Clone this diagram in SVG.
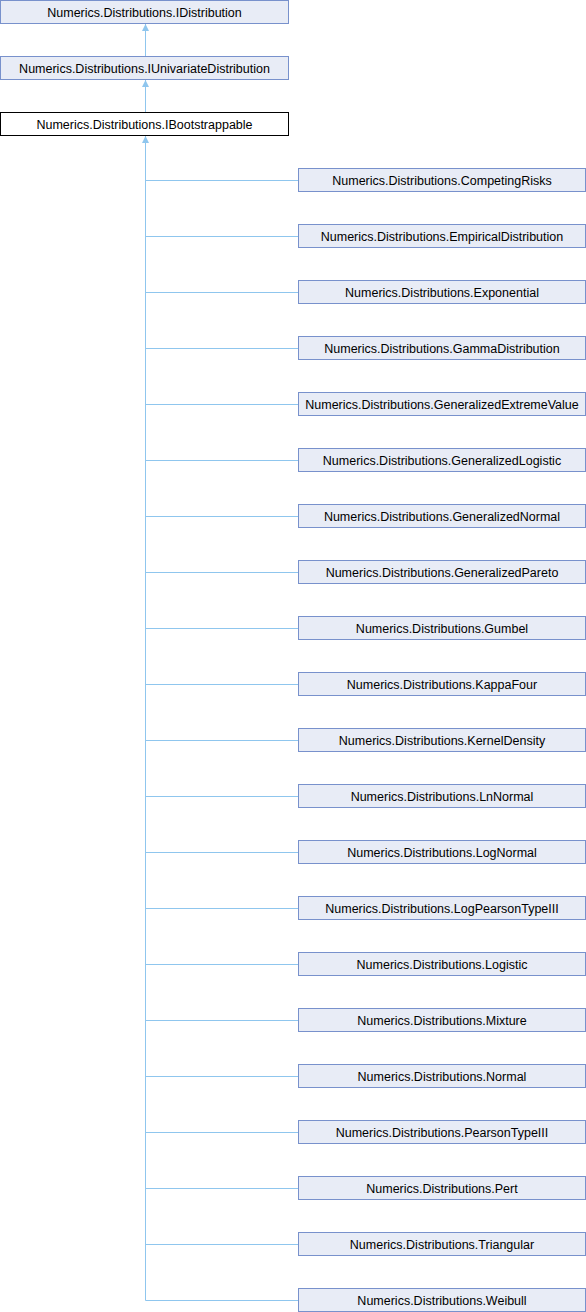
<svg xmlns="http://www.w3.org/2000/svg" width="586" height="1312" viewBox="0 0 586 1312">
<style>
.n rect{fill:#E8ECF6;stroke:#7891CC;stroke-width:1}
.n.cur rect{fill:#FFFFFF;stroke:#000000}
.n text{font-family:"Liberation Sans",Arial,sans-serif;font-size:12.5px;fill:#000;text-anchor:middle}
.e{fill:none;stroke:#8FC6EE;stroke-width:1}
</style>
<defs>
<marker id="ah" viewBox="0 0 10 10" refX="10" refY="5" markerWidth="7" markerHeight="7" orient="auto" markerUnits="userSpaceOnUse">
<path d="M0,0 L10,5 L0,10 z" fill="#8FC6EE"/>
</marker>
</defs>
<g id="edges">
<path class="e" d="M145.5,56 V24" marker-end="url(#ah)"/>
<path class="e" d="M145.5,112 V80" marker-end="url(#ah)"/>
<path class="e" d="M145.5,1300.5 V136" marker-end="url(#ah)"/>
<path class="e" d="M145.5,180.5 H298 M145.5,236.5 H298 M145.5,292.5 H298 M145.5,348.5 H298 M145.5,404.5 H298 M145.5,460.5 H298 M145.5,516.5 H298 M145.5,572.5 H298 M145.5,628.5 H298 M145.5,684.5 H298 M145.5,740.5 H298 M145.5,796.5 H298 M145.5,852.5 H298 M145.5,908.5 H298 M145.5,964.5 H298 M145.5,1020.5 H298 M145.5,1076.5 H298 M145.5,1132.5 H298 M145.5,1188.5 H298 M145.5,1244.5 H298 M145.5,1300.5 H298"/>
</g>
<g id="IDistribution" class="n"><rect x="0.5" y="0.5" width="288" height="23"/><text x="144.5" y="16.5">Numerics.Distributions.IDistribution</text></g>
<g id="IUnivariateDistribution" class="n"><rect x="0.5" y="56.5" width="288" height="23"/><text x="144.5" y="72.5">Numerics.Distributions.IUnivariateDistribution</text></g>
<g id="IBootstrappable" class="n cur"><rect x="0.5" y="112.5" width="288" height="23"/><text x="144.5" y="128.5">Numerics.Distributions.IBootstrappable</text></g>
<g id="CompetingRisks" class="n"><rect x="298.5" y="168.5" width="287" height="23"/><text x="442" y="184.5">Numerics.Distributions.CompetingRisks</text></g>
<g id="EmpiricalDistribution" class="n"><rect x="298.5" y="224.5" width="287" height="23"/><text x="442" y="240.5">Numerics.Distributions.EmpiricalDistribution</text></g>
<g id="Exponential" class="n"><rect x="298.5" y="280.5" width="287" height="23"/><text x="442" y="296.5">Numerics.Distributions.Exponential</text></g>
<g id="GammaDistribution" class="n"><rect x="298.5" y="336.5" width="287" height="23"/><text x="442" y="352.5">Numerics.Distributions.GammaDistribution</text></g>
<g id="GeneralizedExtremeValue" class="n"><rect x="298.5" y="392.5" width="287" height="23"/><text x="442" y="408.5">Numerics.Distributions.GeneralizedExtremeValue</text></g>
<g id="GeneralizedLogistic" class="n"><rect x="298.5" y="448.5" width="287" height="23"/><text x="442" y="464.5">Numerics.Distributions.GeneralizedLogistic</text></g>
<g id="GeneralizedNormal" class="n"><rect x="298.5" y="504.5" width="287" height="23"/><text x="442" y="520.5">Numerics.Distributions.GeneralizedNormal</text></g>
<g id="GeneralizedPareto" class="n"><rect x="298.5" y="560.5" width="287" height="23"/><text x="442" y="576.5">Numerics.Distributions.GeneralizedPareto</text></g>
<g id="Gumbel" class="n"><rect x="298.5" y="616.5" width="287" height="23"/><text x="442" y="632.5">Numerics.Distributions.Gumbel</text></g>
<g id="KappaFour" class="n"><rect x="298.5" y="672.5" width="287" height="23"/><text x="442" y="688.5">Numerics.Distributions.KappaFour</text></g>
<g id="KernelDensity" class="n"><rect x="298.5" y="728.5" width="287" height="23"/><text x="442" y="744.5">Numerics.Distributions.KernelDensity</text></g>
<g id="LnNormal" class="n"><rect x="298.5" y="784.5" width="287" height="23"/><text x="442" y="800.5">Numerics.Distributions.LnNormal</text></g>
<g id="LogNormal" class="n"><rect x="298.5" y="840.5" width="287" height="23"/><text x="442" y="856.5">Numerics.Distributions.LogNormal</text></g>
<g id="LogPearsonTypeIII" class="n"><rect x="298.5" y="896.5" width="287" height="23"/><text x="442" y="912.5">Numerics.Distributions.LogPearsonTypeIII</text></g>
<g id="Logistic" class="n"><rect x="298.5" y="952.5" width="287" height="23"/><text x="442" y="968.5">Numerics.Distributions.Logistic</text></g>
<g id="Mixture" class="n"><rect x="298.5" y="1008.5" width="287" height="23"/><text x="442" y="1024.5">Numerics.Distributions.Mixture</text></g>
<g id="Normal" class="n"><rect x="298.5" y="1064.5" width="287" height="23"/><text x="442" y="1080.5">Numerics.Distributions.Normal</text></g>
<g id="PearsonTypeIII" class="n"><rect x="298.5" y="1120.5" width="287" height="23"/><text x="442" y="1136.5">Numerics.Distributions.PearsonTypeIII</text></g>
<g id="Pert" class="n"><rect x="298.5" y="1176.5" width="287" height="23"/><text x="442" y="1192.5">Numerics.Distributions.Pert</text></g>
<g id="Triangular" class="n"><rect x="298.5" y="1232.5" width="287" height="23"/><text x="442" y="1248.5">Numerics.Distributions.Triangular</text></g>
<g id="Weibull" class="n"><rect x="298.5" y="1288.5" width="287" height="23"/><text x="442" y="1304.5">Numerics.Distributions.Weibull</text></g>
</svg>
